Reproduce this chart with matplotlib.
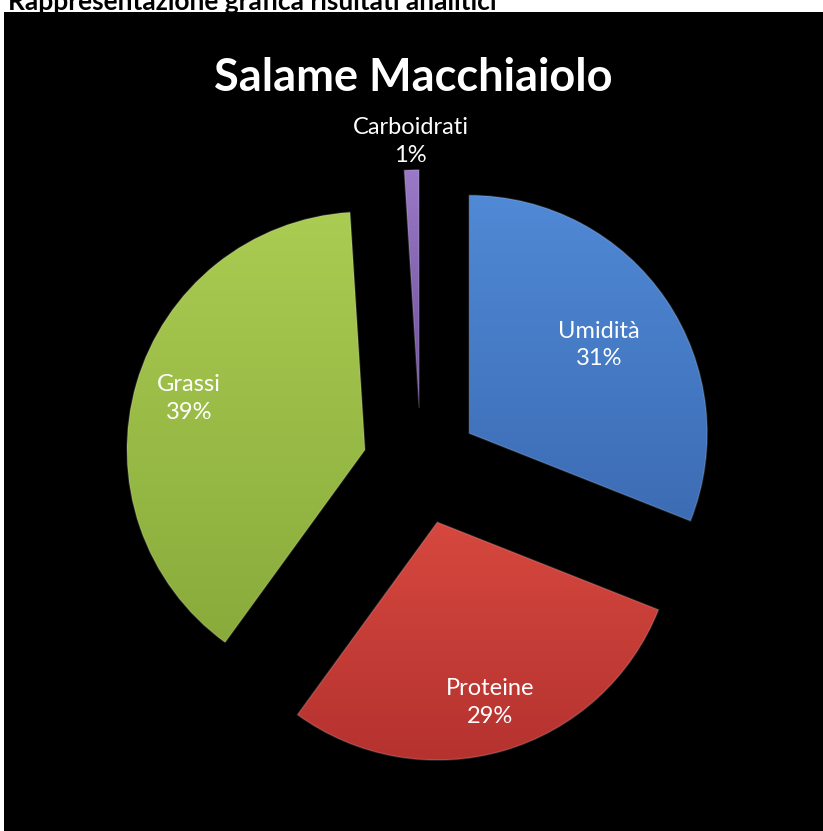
import numpy as np
import matplotlib
matplotlib.use("Agg")
import matplotlib.pyplot as plt
from matplotlib.colors import LinearSegmentedColormap

# Data
labels = ["Umidità", "Proteine", "Grassi", "Carboidrati"]
values = [31, 29, 39, 1]
top_colors = ["#5089d6", "#d6483f", "#aacc52", "#9a7ac6"]
bottom_colors = ["#3c6cb4", "#b5322f", "#89ab3b", "#6e4f9c"]
label_dist = [0.66, 0.79, 0.77, 1.12]

plt.rcParams['font.family'] = ['Lato', 'DejaVu Sans']

W, H = 823, 831
fig = plt.figure(figsize=(W / 100, H / 100), dpi=100)
fig.patch.set_facecolor("white")

# black chart area
ax = fig.add_axes([4 / W, 0, 819 / W, 819 / H])
ax.set_facecolor("black")

wedges, _ = ax.pie(values, startangle=90, counterclock=False,
                   explode=[0.245] * len(values), radius=1.0,
                   wedgeprops=dict(linewidth=0))

# gradient fill clipped to each wedge
for w, c1, c2 in zip(wedges, top_colors, bottom_colors):
    bb = w.get_path().get_extents()
    cmap = LinearSegmentedColormap.from_list("g", [c2, c1])
    grad = np.linspace(0, 1, 256).reshape(-1, 1)
    im = ax.imshow(grad, cmap=cmap, origin="lower", aspect="auto",
                   extent=[bb.x0, bb.x1, bb.y0, bb.y1], zorder=1)
    im.set_clip_path(w)
    w.set_facecolor("none")
    w.set_edgecolor((1, 1, 1, 0.15))
    w.set_linewidth(1.2)
    w.set_zorder(2)

# labels
for w, lab, v, d in zip(wedges, labels, values, label_dist):
    th = np.deg2rad((w.theta1 + w.theta2) / 2)
    cx, cy = w.center
    ax.text(cx + d * w.r * np.cos(th), cy + d * w.r * np.sin(th),
            f"{lab}\n{v}%", color="white", fontsize=17, ha="center",
            va="center", linespacing=1.4, zorder=3)

ax.set_xlim(-1.752, 1.689)
ax.set_ylim(-1.533, 1.908)
ax.set_aspect("equal")
ax.axis("off")
ax.add_patch(plt.Rectangle((0, 0), 1, 1, transform=ax.transAxes,
                           facecolor="black", zorder=0))

ax.text(0.5, 0.92, "Salame Macchiaiolo", transform=ax.transAxes,
        color="white", fontsize=32.5, fontweight="bold", ha="center",
        va="center")

fig.text(8 / W, 1 - 10 / H, "Rappresentazione grafica risultati analitici",
         fontsize=19, fontweight="bold", color="black", ha="left",
         va="baseline")

fig.savefig("out.png", dpi=100, facecolor=fig.get_facecolor())
